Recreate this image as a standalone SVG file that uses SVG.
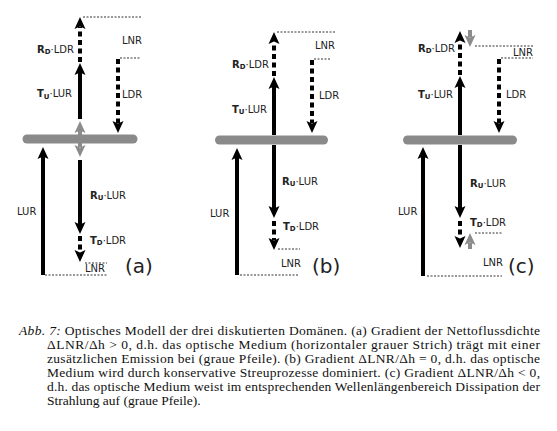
<svg xmlns="http://www.w3.org/2000/svg" width="557" height="431" viewBox="0 0 557 431">
<style>
.bg{fill:#ffffff}
.bar{stroke:#8a8a8a;stroke-width:9;stroke-linecap:round;fill:none}
.sh{stroke:#000;stroke-width:4;fill:none}
.dsh{stroke:#000;stroke-width:4;fill:none;stroke-dasharray:5 3.5}
.gsh{stroke:#8c8c8c;stroke-width:4;fill:none}
.dot{stroke:#333;stroke-width:1;fill:none;stroke-dasharray:2 1.5}
.hk{fill:#000}
.hg{fill:#8c8c8c}
.lb{font-family:"DejaVu Sans",sans-serif;font-size:10px;fill:#222}
.b{font-weight:bold}
.sub{font-weight:bold;font-size:7px}
.pl{font-family:"DejaVu Sans",sans-serif;font-size:20px;fill:#222}
.cap{font-family:"Liberation Serif",serif;font-size:13.5px;fill:#111}
</style>
<defs>
<path id="hdn" d="M0,0 L-5.5,-12 L0,-9.5 L5.5,-12 Z"/>
<path id="hup" d="M0,0 L-5.5,12 L0,9.5 L5.5,12 Z"/>
</defs>
<rect class="bg" x="0" y="0" width="557" height="431"/>

<!-- Panel (a) -->
<g id="panel-a">
  <g id="a-medium"><line class="bar" x1="27" y1="139" x2="133" y2="139"/></g>
  <g id="a-connectors">
    <line class="sh" x1="80" y1="119" x2="80" y2="72"/><use class="hk" href="#hup" x="80" y="63"/>
    <line class="dsh" x1="80" y1="62" x2="80" y2="27"/><use class="hk" href="#hup" x="80" y="17"/>
    <line class="gsh" x1="80" y1="129" x2="80" y2="135"/><use class="hg" href="#hup" x="80" y="121"/>
    <line class="dsh" x1="118" y1="59" x2="118" y2="123"/><use class="hk" href="#hdn" x="118" y="133"/>
    <line class="gsh" x1="80" y1="143" x2="80" y2="147"/><use class="hg" href="#hdn" x="80" y="157"/>
    <line class="sh" x1="80" y1="160" x2="80" y2="225"/><use class="hk" href="#hdn" x="80" y="234"/>
    <line class="dsh" x1="80" y1="236" x2="80" y2="252"/><use class="hk" href="#hdn" x="80" y="262"/>
    <line class="sh" x1="43" y1="275" x2="43" y2="156"/><use class="hk" href="#hup" x="43" y="147"/>
    <line class="dot" x1="83" y1="17" x2="141" y2="17"/>
    <line class="dot" x1="120" y1="58" x2="140" y2="58"/>
    <line class="dot" x1="85" y1="263" x2="107" y2="263"/>
    <line class="dot" x1="45" y1="275" x2="107" y2="275"/>
  </g>
  <g id="a-labels">
    <text class="lb" x="37" y="52.5"><tspan class="b">R</tspan><tspan class="sub" dy="1.5">D</tspan><tspan dy="-1.5">·LDR</tspan></text>
    <text class="lb" x="37" y="97"><tspan class="b">T</tspan><tspan class="sub" dy="1.5">U</tspan><tspan dy="-1.5">·LUR</tspan></text>
    <text class="lb" x="122" y="43.5">LNR</text>
    <text class="lb" x="122" y="98">LDR</text>
    <text class="lb" x="90" y="198.5"><tspan class="b">R</tspan><tspan class="sub" dy="1.5">U</tspan><tspan dy="-1.5">·LUR</tspan></text>
    <text class="lb" x="90" y="243.5"><tspan class="b">T</tspan><tspan class="sub" dy="1.5">D</tspan><tspan dy="-1.5">·LDR</tspan></text>
    <text class="lb" x="85" y="272">LNR</text>
    <text class="lb" x="17" y="215">LUR</text>
    <text class="pl" x="125" y="273">(a)</text>
  </g>
</g>

<!-- Panel (b) -->
<g id="panel-b">
  <g id="b-medium"><line class="bar" x1="219.5" y1="140" x2="323.5" y2="140"/></g>
  <g id="b-connectors">
    <line class="sh" x1="274" y1="135" x2="274" y2="86"/><use class="hk" href="#hup" x="274" y="77"/>
    <line class="dsh" x1="274" y1="76" x2="274" y2="42"/><use class="hk" href="#hup" x="274" y="32"/>
    <line class="dsh" x1="312" y1="60" x2="312" y2="123"/><use class="hk" href="#hdn" x="312" y="133"/>
    <line class="sh" x1="274" y1="145" x2="274" y2="209"/><use class="hk" href="#hdn" x="274" y="218"/>
    <line class="dsh" x1="274" y1="221" x2="274" y2="240"/><use class="hk" href="#hdn" x="274" y="250"/>
    <line class="sh" x1="237" y1="275" x2="237" y2="157"/><use class="hk" href="#hup" x="237" y="148"/>
    <line class="dot" x1="277" y1="32" x2="335" y2="32"/>
    <line class="dot" x1="314" y1="59" x2="331" y2="59"/>
    <line class="dot" x1="278" y1="249" x2="300" y2="249"/>
    <line class="dot" x1="240" y1="275" x2="299" y2="275"/>
  </g>
  <g id="b-labels">
    <text class="lb" x="232" y="67.5"><tspan class="b">R</tspan><tspan class="sub" dy="1.5">D</tspan><tspan dy="-1.5">·LDR</tspan></text>
    <text class="lb" x="232" y="112.5"><tspan class="b">T</tspan><tspan class="sub" dy="1.5">U</tspan><tspan dy="-1.5">·LUR</tspan></text>
    <text class="lb" x="315" y="48.5">LNR</text>
    <text class="lb" x="319" y="98.5">LDR</text>
    <text class="lb" x="282" y="184.5"><tspan class="b">R</tspan><tspan class="sub" dy="1.5">U</tspan><tspan dy="-1.5">·LUR</tspan></text>
    <text class="lb" x="283" y="229.5"><tspan class="b">T</tspan><tspan class="sub" dy="1.5">D</tspan><tspan dy="-1.5">·LDR</tspan></text>
    <text class="lb" x="281" y="266.5">LNR</text>
    <text class="lb" x="210" y="216.5">LUR</text>
    <text class="pl" x="312" y="273">(b)</text>
  </g>
</g>

<!-- Panel (c) -->
<g id="panel-c">
  <g id="c-medium"><line class="bar" x1="407.5" y1="140" x2="512.5" y2="140"/></g>
  <g id="c-connectors">
    <line class="sh" x1="460" y1="135" x2="460" y2="85"/><use class="hk" href="#hup" x="460" y="76"/>
    <line class="dsh" x1="460" y1="75" x2="460" y2="41"/><use class="hk" href="#hup" x="460" y="31"/>
    <line class="gsh" x1="470" y1="30" x2="470" y2="37"/><use class="hg" href="#hdn" x="470" y="47"/>
    <line class="dsh" x1="499" y1="59" x2="499" y2="123"/><use class="hk" href="#hdn" x="499" y="133"/>
    <line class="sh" x1="460" y1="145" x2="460" y2="209"/><use class="hk" href="#hdn" x="460" y="218"/>
    <line class="dsh" x1="460" y1="221" x2="460" y2="238"/><use class="hk" href="#hdn" x="460" y="248"/>
    <line class="gsh" x1="470" y1="243" x2="470" y2="249"/><use class="hg" href="#hup" x="470" y="233"/>
    <line class="sh" x1="423" y1="276" x2="423" y2="156"/><use class="hk" href="#hup" x="423" y="147"/>
    <line class="dot" x1="475" y1="46" x2="533" y2="46"/>
    <line class="dot" x1="501" y1="58" x2="533" y2="58"/>
    <line class="dot" x1="475" y1="233" x2="502" y2="233"/>
    <line class="dot" x1="427" y1="276" x2="502" y2="276"/>
  </g>
  <g id="c-labels">
    <text class="lb" x="418" y="51.5"><tspan class="b">R</tspan><tspan class="sub" dy="1.5">D</tspan><tspan dy="-1.5">·LDR</tspan></text>
    <text class="lb" x="418" y="97.5"><tspan class="b">T</tspan><tspan class="sub" dy="1.5">U</tspan><tspan dy="-1.5">·LUR</tspan></text>
    <text class="lb" x="513" y="56">LNR</text>
    <text class="lb" x="506" y="97.5">LDR</text>
    <text class="lb" x="470" y="186.5"><tspan class="b">R</tspan><tspan class="sub" dy="1.5">U</tspan><tspan dy="-1.5">·LUR</tspan></text>
    <text class="lb" x="470" y="225.5"><tspan class="b">T</tspan><tspan class="sub" dy="1.5">D</tspan><tspan dy="-1.5">·LDR</tspan></text>
    <text class="lb" x="483" y="265.5">LNR</text>
    <text class="lb" x="398" y="214.5">LUR</text>
    <text class="pl" x="508" y="273">(c)</text>
  </g>
</g>

<!-- Caption -->
<g id="caption">
  <text class="cap" x="19" y="335" textLength="521" lengthAdjust="spacing"><tspan font-style="italic">Abb. 7:</tspan> Optisches Modell der drei diskutierten Domänen. (a) Gradient der Nettoflussdichte</text>
  <text class="cap" x="47" y="349" textLength="493" lengthAdjust="spacing">ΔLNR/Δh &gt; 0, d.h. das optische Medium (horizontaler grauer Strich) trägt mit einer</text>
  <text class="cap" x="47" y="363" textLength="493" lengthAdjust="spacing">zusätzlichen Emission bei (graue Pfeile). (b) Gradient ΔLNR/Δh = 0, d.h. das optische</text>
  <text class="cap" x="47" y="377" textLength="493" lengthAdjust="spacing">Medium wird durch konservative Streuprozesse dominiert. (c) Gradient ΔLNR/Δh &lt; 0,</text>
  <text class="cap" x="47" y="391" textLength="493" lengthAdjust="spacing">d.h. das optische Medium weist im entsprechenden Wellenlängenbereich Dissipation der</text>
  <text class="cap" x="47" y="405">Strahlung auf (graue Pfeile).</text>
</g>
</svg>
